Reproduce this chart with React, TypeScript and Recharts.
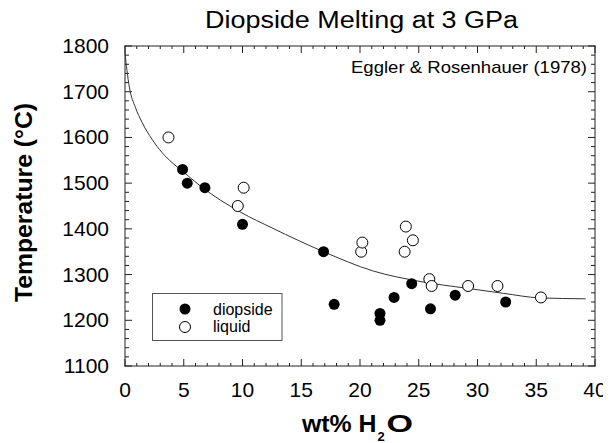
import React from 'react';
import { ScatterChart, Scatter, XAxis, YAxis } from 'recharts';

// values
const diopsideX = [4.9, 5.3, 6.8, 10.0, 16.9, 17.8, 21.7, 21.7, 22.9, 24.4, 26.0, 28.1, 32.4];
const diopsideT = [1530, 1500, 1490, 1410, 1350, 1235, 1215, 1200, 1250, 1280, 1225, 1255, 1240];

const liquidX = [3.7, 9.6, 10.1, 20.1, 20.2, 23.8, 23.9, 24.5, 25.9, 26.1, 29.2, 31.7, 35.4];
const liquidT = [1600, 1450, 1490, 1350, 1370, 1350, 1405, 1375, 1290, 1275, 1275, 1275, 1250];

const curveX = [0, 0.17, 0.37, 0.88, 1.45, 2.3, 3.15, 4.0, 5.0, 6.4, 9.8, 12.6, 16.9, 21.1, 25.1, 29.1, 32.2, 35.3, 39.2];
const curveT = [1785, 1746, 1710, 1666, 1633, 1596, 1567, 1545, 1524, 1494, 1437, 1401, 1350, 1308, 1285, 1270, 1259, 1249, 1247];

const xTicks = Array.from({ length: 41 }, (_, i) => i);
const yTicks = Array.from({ length: 36 }, (_, i) => 1100 + i * 20);

const toPoints = (xs: number[], ts: number[]) => xs.map((x, i) => ({ x, t: ts[i] }));

const diopside = toPoints(diopsideX, diopsideT);
const liquid = toPoints(liquidX, liquidT);
const curve = toPoints(curveX, curveT);

const FONT = '"Liberation Sans", Arial, Helvetica, sans-serif';

const W = 611;
const H = 443;
const M = { top: 46, right: 16, bottom: 76, left: 0 };
const Y_AXIS_W = 125;
const X_AXIS_H = 1;
const PLOT_L = M.left + Y_AXIS_W;
const PLOT_R = W - M.right;
const PLOT_T = M.top;
const PLOT_B = H - M.bottom - X_AXIS_H;

// box frame and inward ticks on all four sides, drawn as thin filled bars
const sx = (v: number) => PLOT_L + (v / 40) * (PLOT_R - PLOT_L);
const sy = (v: number) => PLOT_B - ((v - 1100) / 700) * (PLOT_B - PLOT_T);

type Bar = { x: number; y: number; w: number; h: number };
const frameBars: Bar[] = [
  { x: PLOT_L - 0.5, y: PLOT_T - 0.5, w: PLOT_R - PLOT_L + 1, h: 1 },
  { x: PLOT_L - 0.5, y: PLOT_B - 0.5, w: PLOT_R - PLOT_L + 1, h: 1 },
  { x: PLOT_L - 0.5, y: PLOT_T - 0.5, w: 1, h: PLOT_B - PLOT_T + 1 },
  { x: PLOT_R - 0.5, y: PLOT_T - 0.5, w: 1, h: PLOT_B - PLOT_T + 1 },
];
xTicks.forEach((v) => {
  const len = v % 5 === 0 ? 7 : 3;
  frameBars.push({ x: sx(v) - 0.5, y: PLOT_B - len, w: 1, h: len });
  frameBars.push({ x: sx(v) - 0.5, y: PLOT_T, w: 1, h: len });
});
yTicks.forEach((v) => {
  const len = v % 100 === 0 ? 7 : 4;
  frameBars.push({ x: PLOT_L, y: sy(v) - 0.5, w: len, h: 1 });
  frameBars.push({ x: PLOT_R - len, y: sy(v) - 0.5, w: len, h: 1 });
});

const BottomTick = (props: any) => {
  const { x, y, payload } = props;
  if (payload.value % 5 !== 0) return <g />;
  return (
    <text x={x} y={y + 31} textAnchor="middle" fontSize={21} fill="black" fontFamily={FONT}>
      {payload.value}
    </text>
  );
};

const LeftTick = (props: any) => {
  const { x, y, payload } = props;
  if (payload.value % 100 !== 0) return <g />;
  return (
    <text x={x - 16} y={y + 7} textAnchor="end" fontSize={21} fill="black" fontFamily={FONT}>
      {payload.value}
    </text>
  );
};

const FilledDot = (props: any) => <circle cx={props.cx} cy={props.cy} r={5.5} fill="black" />;
const OpenDot = (props: any) => (
  <circle cx={props.cx} cy={props.cy} r={5.5} fill="white" stroke="black" strokeWidth={1} />
);
const NoDot = () => <g />;

export default function App() {
  return (
    <div style={{ width: W, height: H, marginLeft: -8, marginTop: -8 }}>
      <ScatterChart width={W} height={H} margin={M}>
        <XAxis
          type="number"
          dataKey="x"
          domain={[0, 40]}
          ticks={xTicks}
          interval={0}
          height={X_AXIS_H}
          tickSize={0}
          tickMargin={0}
          axisLine={false}
          tickLine={false}
          tick={<BottomTick />}
        />
        <YAxis
          type="number"
          dataKey="t"
          domain={[1100, 1800]}
          ticks={yTicks}
          interval={0}
          width={Y_AXIS_W}
          tickSize={0}
          tickMargin={0}
          axisLine={false}
          tickLine={false}
          tick={<LeftTick />}
        />
        <Scatter
          name="fit"
          data={curve}
          line={{ stroke: '#333', strokeWidth: 1 }}
          lineJointType="monotoneX"
          shape={<NoDot />}
          isAnimationActive={false}
        />
        <Scatter name="diopside" data={diopside} shape={<FilledDot />} isAnimationActive={false} />
        <Scatter name="liquid" data={liquid} shape={<OpenDot />} isAnimationActive={false} />

        <g>
          {frameBars.map((b, i) => (
            <rect key={i} x={b.x} y={b.y} width={b.w} height={b.h} fill="#222" />
          ))}
        </g>

        <text
          x={361.5}
          y={28}
          textAnchor="middle"
          fontSize={23}
          textLength={313}
          lengthAdjust="spacingAndGlyphs"
          fill="black"
          fontFamily={FONT}
        >
          Diopside Melting at 3 GPa
        </text>
        <text
          x={587}
          y={73}
          textAnchor="end"
          fontSize={17}
          textLength={236}
          lengthAdjust="spacingAndGlyphs"
          fill="black"
          fontFamily={FONT}
        >
          Eggler &amp; Rosenhauer (1978)
        </text>
        <text
          x={0}
          y={0}
          transform="translate(32 202.5) rotate(-90)"
          textAnchor="middle"
          fontSize={23.5}
          textLength={199}
          lengthAdjust="spacingAndGlyphs"
          fontWeight="bold"
          fill="black"
          fontFamily={FONT}
        >
          Temperature (°C)
        </text>
        <text
          x={302}
          y={432}
          fontSize={23}
          textLength={74.5}
          lengthAdjust="spacingAndGlyphs"
          fontWeight="bold"
          fill="black"
          fontFamily={FONT}
        >
          wt% H
        </text>
        <text x={377.5} y={441} fontSize={13} fontWeight="bold" fill="black" fontFamily={FONT}>
          2
        </text>
        <text
          x={386.5}
          y={432}
          fontSize={23}
          textLength={26.5}
          lengthAdjust="spacingAndGlyphs"
          fontWeight="bold"
          fill="black"
          fontFamily={FONT}
        >
          O
        </text>

        <g>
          <rect x={152.5} y={293.5} width={129.5} height={47} fill="white" stroke="#555" strokeWidth={1} />
          <circle cx={185} cy={309} r={5.5} fill="black" />
          <circle cx={185} cy={327} r={5.5} fill="white" stroke="black" strokeWidth={1} />
          <text x={213} y={314.5} fontSize={16} fill="black" fontFamily={FONT}>diopside</text>
          <text x={213} y={332} fontSize={16} fill="black" fontFamily={FONT}>liquid</text>
        </g>
      </ScatterChart>
    </div>
  );
}
